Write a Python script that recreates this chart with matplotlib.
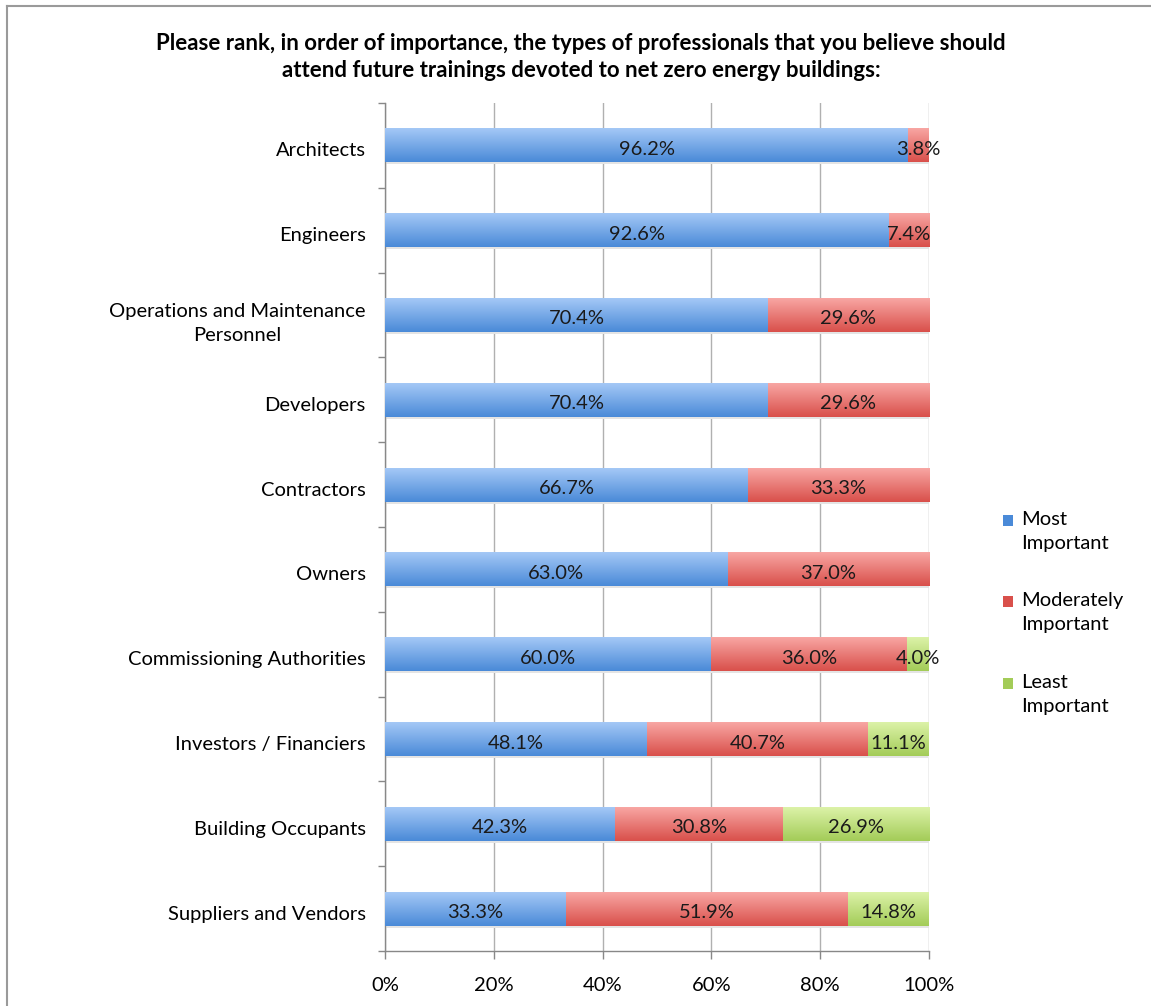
import numpy as np
import matplotlib.pyplot as plt
from matplotlib.lines import Line2D
from matplotlib.patches import Rectangle
from matplotlib.colors import LinearSegmentedColormap
from matplotlib.transforms import ScaledTranslation

plt.rcParams['font.family'] = ['Lato', 'DejaVu Sans']

categories = ['Architects', 'Engineers', 'Operations and Maintenance\nPersonnel',
              'Developers', 'Contractors', 'Owners', 'Commissioning Authorities',
              'Investors / Financiers', 'Building Occupants', 'Suppliers and Vendors']
most = [96.2, 92.6, 70.4, 70.4, 66.7, 63.0, 60.0, 48.1, 42.3, 33.3]
moderate = [3.8, 7.4, 29.6, 29.6, 33.3, 37.0, 36.0, 40.7, 30.8, 51.9]
least = [0.0, 0.0, 0.0, 0.0, 0.0, 0.0, 4.0, 11.1, 26.9, 14.8]
series_names = ['Most\nImportant', 'Moderately\nImportant', 'Least\nImportant']

# (top colour, bottom colour) for each series gradient
shades = [('#a4c8f6', '#4a8ad8'), ('#f8a6a3', '#d9504b'), ('#dcf2a8', '#a3cc58')]

fs = 14.5

fig = plt.figure(figsize=(11.51, 10.06), dpi=100)
ax = fig.add_axes([385 / 1151, 1 - 951 / 1006, 544 / 1151, 848 / 1006])
nudge = ScaledTranslation(0, -4 / 100, fig.dpi_scale_trans)  # push text down ~4px

y = np.arange(len(categories))
bar_h = 0.40
left = np.zeros(len(categories))
for vals, (c_top, c_bot) in zip([most, moderate, least], shades):
    vals = np.array(vals)
    bars = ax.barh(y, vals, left=left, height=bar_h, color='none', zorder=3)
    cmap = LinearSegmentedColormap.from_list('g', [c_top, c_bot])
    grad = np.linspace(0, 1, 64).reshape(-1, 1)
    for b, v in zip(bars, vals):
        if v <= 0:
            continue
        x0, y0, w, h = b.get_x(), b.get_y(), b.get_width(), b.get_height()
        # soft shadow under the bar
        ax.add_patch(Rectangle((x0, y0 + h), w, 0.025, color='#e4e4e4', lw=0, zorder=2))
        ax.imshow(grad, cmap=cmap, aspect='auto', extent=(x0, x0 + w, y0 + h, y0),
                  origin='upper', zorder=3, interpolation='bicubic')
        ax.text(x0 + w / 2, y0 + h / 2, f'{v:.1f}%', ha='center', va='center',
                fontsize=fs, color='#1a1a1a', zorder=4, transform=ax.transData + nudge)
    left = left + vals

ax.set_xlim(0, 100)
ax.set_ylim(len(categories) - 0.5, -0.5)
ax.set_aspect('auto')

# x axis
ax.set_xticks(np.arange(0, 101, 20))
ax.set_xticklabels([f'{t}%' for t in range(0, 101, 20)], fontsize=fs)
ax.tick_params(axis='x', direction='out', length=6, width=1, color='#888888', pad=13)
ax.xaxis.grid(True, color='#b0b0b0', lw=1, zorder=0)
ax.set_axisbelow(True)

# y axis: ticks at boundaries, labels at centres
ax.set_yticks(np.arange(-0.5, len(categories), 1))
ax.set_yticklabels([])
ax.tick_params(axis='y', which='major', direction='out', length=5, width=1, color='#888888')
ax.set_yticks(y, minor=True)
ax.set_yticklabels(categories, minor=True, fontsize=fs, multialignment='center', linespacing=1.45)
ax.tick_params(axis='y', which='minor', length=0, pad=14)
for lbl in ax.get_yticklabels(minor=True):
    lbl.set_transform(lbl.get_transform() + nudge)

for side in ['top', 'right']:
    ax.spines[side].set_visible(False)
for side in ['left', 'bottom']:
    ax.spines[side].set_color('#888888')
    ax.spines[side].set_linewidth(1)

fig.text(581 / 1151, 1 - 57 / 1006,
         'Please rank, in order of importance, the types of professionals that you believe should\n'
         'attend future trainings devoted to net zero energy buildings:',
         ha='center', va='center', fontsize=16, fontweight='bold', linespacing=1.4)

# legend
leg_y = [520, 601, 683]
for name, (c_top, c_bot), ly in zip(series_names, shades, leg_y):
    fig.patches.append(Rectangle((1003 / 1151, 1 - (ly + 6) / 1006), 10 / 1151, 11 / 1006,
                                 transform=fig.transFigure, facecolor=c_bot, edgecolor='none'))
    fig.text(1021 / 1151, 1 - (ly - 9) / 1006, name, ha='left', va='top',
             fontsize=fs, linespacing=1.5)

# outer frame (top and left edges)
fig.add_artist(Line2D([7 / 1151, 1], [1 - 6 / 1006, 1 - 6 / 1006],
                      transform=fig.transFigure, color='#9a9a9a', lw=1.5))
fig.add_artist(Line2D([7 / 1151, 7 / 1151], [0, 1 - 6 / 1006],
                      transform=fig.transFigure, color='#9a9a9a', lw=1.5))

fig.savefig('out.png', dpi=100, facecolor='white')
